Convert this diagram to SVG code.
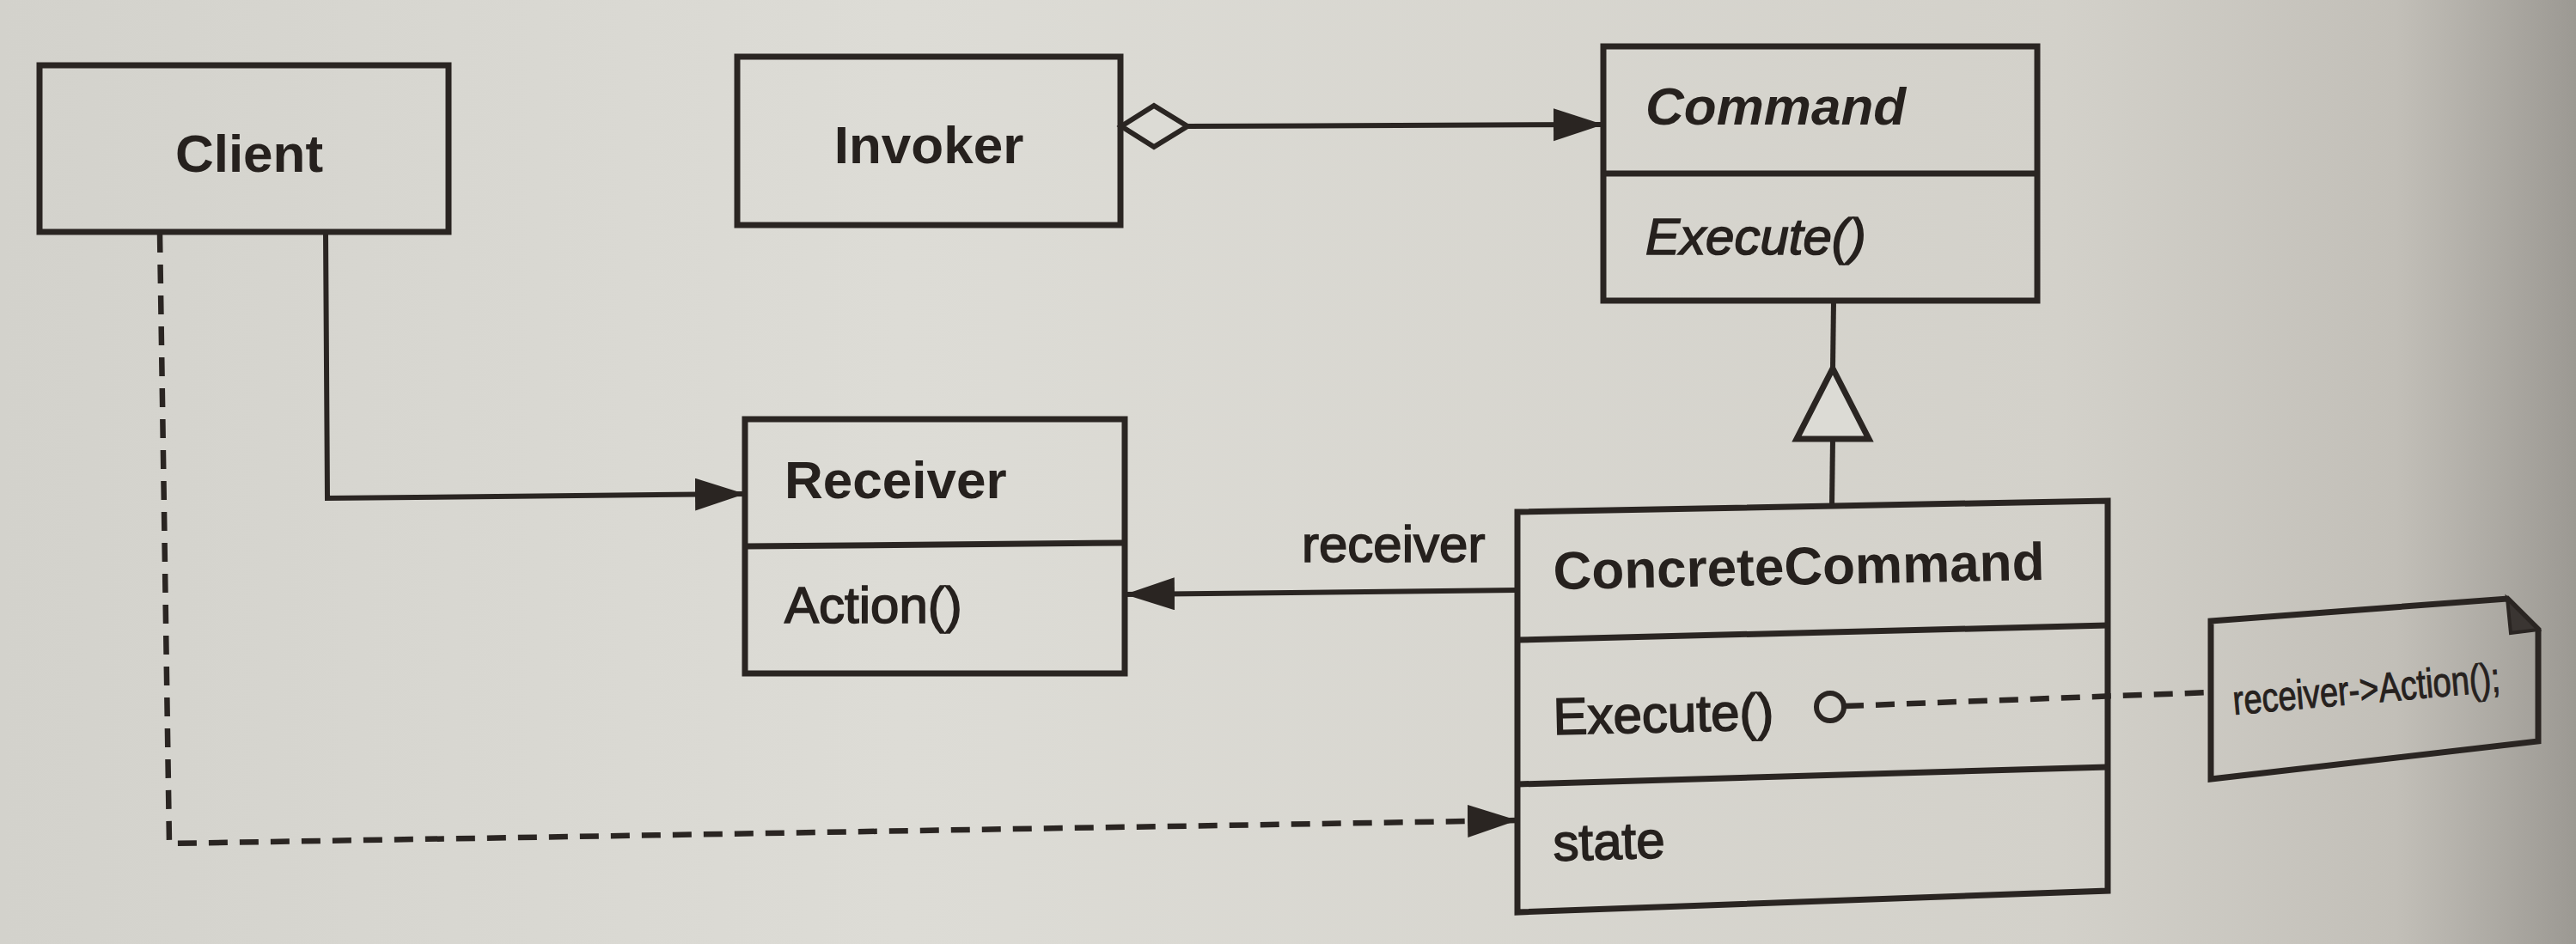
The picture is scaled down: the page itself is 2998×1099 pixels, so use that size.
<svg xmlns="http://www.w3.org/2000/svg" width="2998" height="1099" viewBox="0 0 2998 1099">
<defs>
<linearGradient id="bg" x1="0" y1="0" x2="1" y2="0">
<stop offset="0" stop-color="#d3d2cc"/>
<stop offset="0.35" stop-color="#dddcd6"/>
<stop offset="0.8" stop-color="#d3d1ca"/>
<stop offset="0.93" stop-color="#c2bfb8"/>
<stop offset="1" stop-color="#9c9993"/>
</linearGradient>
<marker id="arrow" markerUnits="userSpaceOnUse" markerWidth="64" markerHeight="42" refX="58" refY="19" orient="auto">
<path d="M0,0 L58,19 L0,38 z" fill="#2a2522"/>
</marker>
<style>
.box{fill:none;stroke:#2a2522;stroke-width:7;stroke-linejoin:miter}
.line{fill:none;stroke:#2a2522;stroke-width:6}
.dash{fill:none;stroke:#2a2522;stroke-width:6.5;stroke-dasharray:22 14}
.t{font-family:"Liberation Sans",Arial,Helvetica,sans-serif;fill:#26211e}
.cls{font-size:62px;font-weight:bold}
.op{font-size:60px;stroke:#26211e;stroke-width:1.6}
</style>
</defs>
<rect width="2998" height="1099" fill="url(#bg)"/>

<g id="connectors">
<line class="line" x1="1382" y1="147" x2="1866" y2="145" marker-end="url(#arrow)"/>
<polygon points="1305,147 1343,123 1382,147 1343,171" fill="#dcdbd5" stroke="#2a2522" stroke-width="6"/>
<line class="line" x1="2134" y1="350" x2="2133" y2="429"/>
<line class="line" x1="2133" y1="511" x2="2132" y2="589"/>
<polygon points="2133,429 2175,511 2091,511" fill="#dcdbd5" stroke="#2a2522" stroke-width="7"/>
<polyline class="line" points="379,270 381,580 867,575" marker-end="url(#arrow)"/>
<line class="line" x1="1766" y1="687" x2="1309" y2="692" marker-end="url(#arrow)"/>
<text class="t op" x="1515" y="654" font-size="62">receiver</text>
<polyline class="dash" points="186,272 197,982 1766,955" marker-end="url(#arrow)"/>
<circle cx="2130" cy="823" r="16" fill="none" stroke="#2a2522" stroke-width="6"/>
<line class="dash" x1="2147" y1="822" x2="2573" y2="806"/>
</g>

<g id="client">
<rect class="box" x="46" y="76" width="476" height="194"/>
<text class="t cls" x="290" y="200" text-anchor="middle" font-size="64">Client</text>
</g>

<g id="invoker">
<rect class="box" x="858" y="66" width="446" height="196"/>
<text class="t cls" x="1081" y="190" text-anchor="middle">Invoker</text>
</g>

<g id="command">
<rect class="box" x="1866" y="54" width="505" height="296"/>
<line class="box" x1="1866" y1="202" x2="2371" y2="202"/>
<text class="t cls" x="1915" y="145" font-style="italic" font-size="60">Command</text>
<text class="t op" x="1915" y="296" font-style="italic">Execute()</text>
</g>

<g id="receiver">
<rect class="box" x="867" y="488" width="442" height="296"/>
<line class="box" x1="867" y1="636" x2="1309" y2="632"/>
<text class="t cls" x="913" y="580" font-size="60">Receiver</text>
<text class="t op" x="913" y="725">Action()</text>
</g>

<g id="concretecommand">
<polygon class="box" points="1766,596 2453,583 2453,1037 1766,1062"/>
<line class="box" x1="1766" y1="745" x2="2453" y2="728"/>
<line class="box" x1="1766" y1="913" x2="2453" y2="893"/>
<text class="t cls" x="1808" y="686" font-size="60" transform="rotate(-1.1 1808 686)">ConcreteCommand</text>
<text class="t op" x="1808" y="855" transform="rotate(-1.3 1808 855)">Execute()</text>
<text class="t op" x="1808" y="1002" transform="rotate(-1.6 1808 1002)">state</text>
</g>

<g id="note">
<polygon class="box" points="2573,723 2918,697 2954,733 2954,863 2573,907"/>
<polygon points="2918,697 2954,733 2922,737" fill="#3a3532" stroke="#2a2522" stroke-width="4"/>
<text class="t" x="2600" y="832" font-size="48" stroke="#26211e" stroke-width="1" textLength="312" lengthAdjust="spacingAndGlyphs" transform="rotate(-5 2600 832)">receiver-&gt;Action();</text>
</g>
</svg>
